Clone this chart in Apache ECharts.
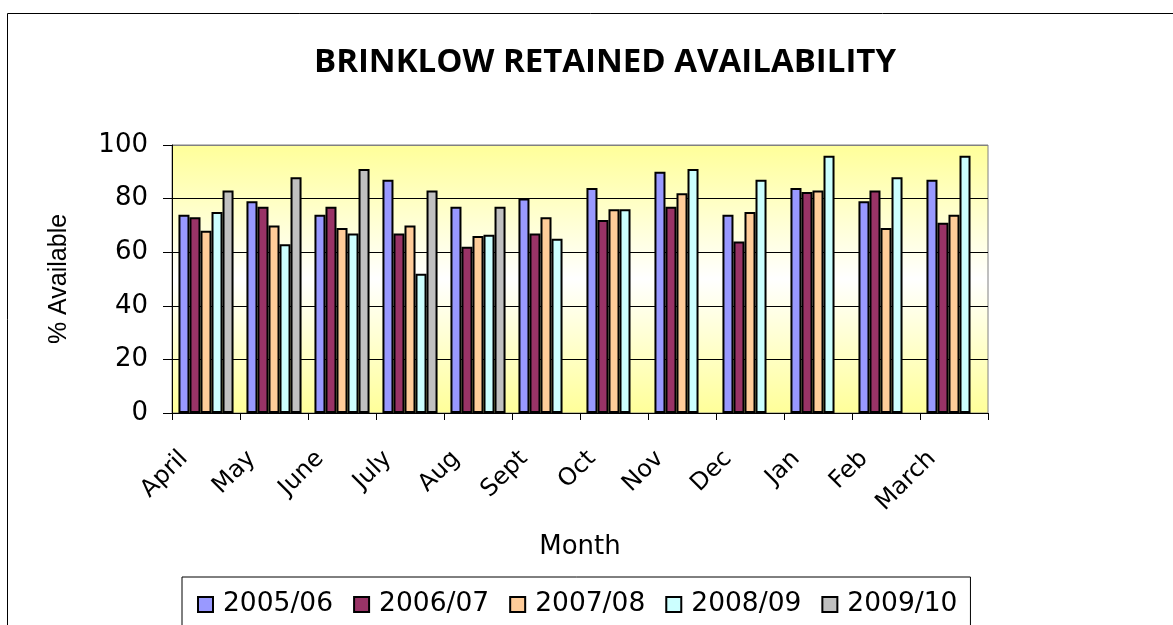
<!DOCTYPE html>
<html>
<head>
<meta charset="utf-8">
<script src="https://cdn.jsdelivr.net/npm/echarts@6/dist/echarts.min.js"></script>
<style>
  html, body { margin: 0; padding: 0; background: #fff; }
  #chart { width: 1173px; height: 625px; }
</style>
</head>
<body>
<div id="chart"></div>
<script>
const months = ['April', 'May', 'June', 'July', 'Aug', 'Sept', 'Oct', 'Nov', 'Dec', 'Jan', 'Feb', 'March']
const seasons = ['2005/06', '2006/07', '2007/08', '2008/09', '2009/10']
const y0506 = [74, 79, 74, 87, 77, 80, 84, 90, 74, 84, 79, 87]
const y0607 = [73, 77, 77, 67, 62, 67, 72, 77, 64, 82.5, 83, 71]
const y0708 = [68, 70, 69, 70, 66, 73, 76, 82, 75, 83, 69, 74]
const y0809 = [75, 63, 67, 52, 66.5, 65, 76, 91, 87, 96, 88, 96]
const y0910 = [83, 88, 91, 83, 77, null, null, null, null, null, null, null]
const yTicks = [0, 20, 40, 60, 80, 100]

const seriesValues = [y0506, y0607, y0708, y0809, y0910]
const colors = ['#9999ff', '#993366', '#ffcc99', '#ccffff', '#c0c0c0']

const chart = echarts.init(document.getElementById('chart'))

const option = {
  animation: false,
  title: {
    text: 'BRINKLOW RETAINED AVAILABILITY',
    left: 600,
    textAlign: 'center',
    top: 41,
    textStyle: { fontFamily: 'Open Sans', fontWeight: 'bold', fontSize: 33, color: '#000' },
  },
  graphic: [
    {
      type: 'rect',
      shape: { x: 7.5, y: 13.5, width: 1300, height: 800 },
      style: { fill: 'none', stroke: '#000', lineWidth: 1 },
      silent: true,
      z: -10,
    },
  ],
  legend: {
    data: seasons,
    left: 182,
    top: 577,
    orient: 'horizontal',
    padding: [14, 13, 40, 15],
    borderColor: '#000',
    borderWidth: 1,
    itemWidth: 15,
    itemHeight: 15,
    itemGap: 20,
    icon: 'rect',
    textStyle: { fontFamily: 'DejaVu Sans', fontSize: 26.5, color: '#000', padding: [0, 0, 0, 5] },
  },
  grid: [
    {
      left: 172, right: 185, top: 145, bottom: 212,
      show: true,
      borderColor: '#808080',
      borderWidth: 1,
      backgroundColor: new echarts.graphic.LinearGradient(0, 0, 0, 1, [
        { offset: 0, color: '#ffff99' },
        { offset: 0.5, color: '#ffffff' },
        { offset: 1, color: '#ffff99' },
      ]),
    },
    // label-only grid, shifted left the way the original draws its month labels
    { left: 150, right: 207, top: 145, bottom: 212 },
  ],
  xAxis: [
    {
      type: 'category',
      gridIndex: 0,
      data: months,
      axisLine: { lineStyle: { color: '#000', width: 1 } },
      axisTick: { show: true, length: 7, lineStyle: { color: '#000' } },
      axisLabel: { show: false },
      name: 'Month',
      nameLocation: 'middle',
      nameGap: 121,
      nameTextStyle: { fontFamily: 'DejaVu Sans', fontSize: 26, color: '#000' },
    },
    {
      type: 'category',
      gridIndex: 1,
      data: months,
      axisLine: { show: false },
      axisTick: { show: false },
      axisLabel: {
        rotate: 45,
        margin: 42,
        interval: 0,
        fontFamily: 'DejaVu Sans',
        fontSize: 24,
        color: '#000',
      },
    },
  ],
  yAxis: [
    {
      type: 'value',
      gridIndex: 0,
      min: 0,
      max: 100,
      interval: 20,
      axisLine: { show: true, lineStyle: { color: '#000', width: 1 } },
      axisTick: { show: true, length: 9, lineStyle: { color: '#000' } },
      axisLabel: {
        margin: 24,
        fontFamily: 'DejaVu Sans',
        fontSize: 26,
        color: '#000',
        formatter: (v) => (yTicks.includes(v) ? String(v) : ''),
      },
      splitLine: {
        show: true,
        lineStyle: { color: ['#000', '#000', '#000', '#000', '#000', '#808080'], width: 1 },
      },
      name: '% Available',
      nameLocation: 'middle',
      nameGap: 100,
      nameRotate: 90,
      nameTextStyle: { fontFamily: 'Liberation Sans', fontSize: 25, color: '#000' },
    },
    { type: 'value', gridIndex: 1, min: 0, max: 100, show: false },
  ],
  series: seasons.map((name, i) => ({
    name,
    type: 'bar',
    xAxisIndex: 0,
    yAxisIndex: 0,
    data: seriesValues[i],
    barGap: '0%',
    barCategoryGap: '19%',
    itemStyle: { color: colors[i], borderColor: '#000', borderWidth: 2 },
  })),
}

chart.setOption(option)
</script>
</body>
</html>
